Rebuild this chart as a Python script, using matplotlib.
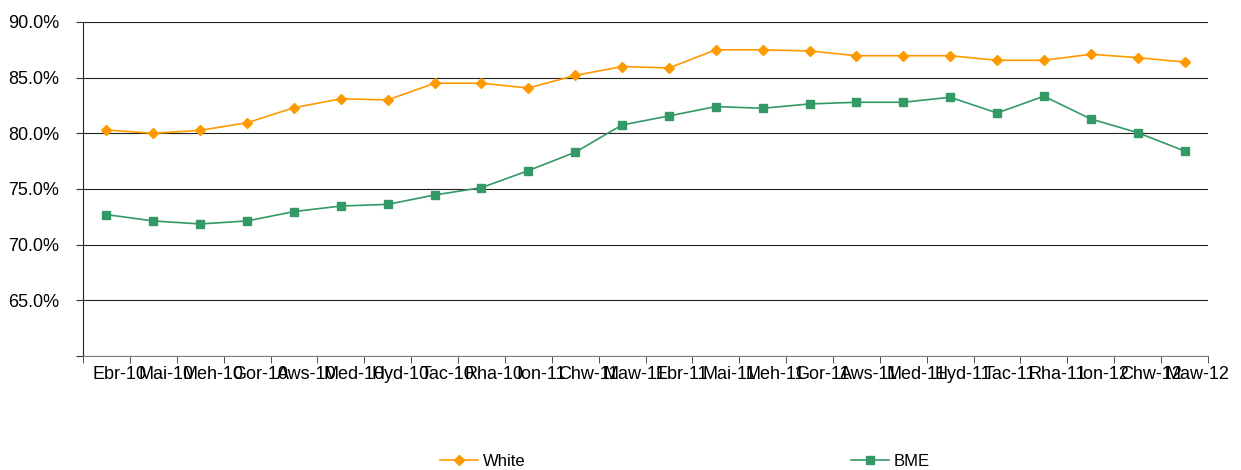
import numpy as np
import matplotlib.pyplot as plt
from matplotlib.ticker import FuncFormatter, FixedLocator
from matplotlib.transforms import ScaledTranslation

plt.rcParams['font.family'] = ['Liberation Sans', 'DejaVu Sans']

# Month labels (Welsh abbreviations)
months = ['Ebr-10', 'Mai-10', 'Meh-10', 'Gor-10', 'Aws-10', 'Med-10', 'Hyd-10',
          'Tac-10', 'Rha-10', 'Ion-11', 'Chw-11', 'Maw-11', 'Ebr-11', 'Mai-11',
          'Meh-11', 'Gor-11', 'Aws-11', 'Med-11', 'Hyd-11', 'Tac-11', 'Rha-11',
          'Ion-12', 'Chw-12', 'Maw-12']

# Rates (%)
white = [80.3, 80.0, 80.27, 80.95, 82.3, 83.1, 83.0, 84.5, 84.5, 84.07, 85.2, 86.0,
         85.87, 87.5, 87.5, 87.4, 86.97, 86.97, 86.97, 86.56, 86.56, 87.1, 86.8, 86.4]
bme = [72.7, 72.13, 71.86, 72.13, 72.97, 73.47, 73.62, 74.46, 75.12, 76.65, 78.3, 80.75,
       81.56, 82.4, 82.25, 82.64, 82.79, 82.79, 83.24, 81.83, 83.33, 81.29, 80.06, 78.41]

x = np.arange(len(months))

fig = plt.figure(figsize=(12.41, 4.70), dpi=100)
ax = fig.add_axes([0.0669, 0.2426, 0.9065, 0.7106])

ax.plot(x, white, color='#FF9900', marker='D', markersize=5.5, linewidth=1.2, label='White')
ax.plot(x, bme, color='#339966', marker='s', markersize=6.2, linewidth=1.2, label='BME')

ax.set_xlim(-0.5, len(months) - 0.5)
ax.set_ylim(60, 90)
ax.set_yticks(np.arange(60, 91, 5))
ax.yaxis.set_major_formatter(FuncFormatter(lambda v, p: '' if v < 61 else f'{v:.1f}%'))
ax.yaxis.grid(True, color='#222222', linewidth=0.8)
ax.set_axisbelow(True)

# tick marks at category edges, labels at centres
ax.set_xticks(x)
ax.set_xticklabels(months)
ax.xaxis.set_minor_locator(FixedLocator(np.arange(-0.5, len(months), 1)))
ax.tick_params(axis='x', which='major', length=0, pad=7, labelsize=13)
ax.tick_params(axis='x', which='minor', length=5, color='#333333')
ax.tick_params(axis='y', length=5, pad=12, labelsize=13, color='#333333')
offset = ScaledTranslation(13 / 100, 0, fig.dpi_scale_trans)
for lbl in ax.get_xticklabels():
    lbl.set_transform(lbl.get_transform() + offset)

for s in ['top', 'right']:
    ax.spines[s].set_visible(False)
ax.spines['left'].set_color('#222222')
ax.spines['bottom'].set_color('#808080')

fig.legend(loc='lower center', bbox_to_anchor=(0.552, -0.03), ncol=2, frameon=False,
           fontsize=12, columnspacing=19.5, handlelength=2.3, handletextpad=0.3)

fig.savefig('out.png', dpi=100)
